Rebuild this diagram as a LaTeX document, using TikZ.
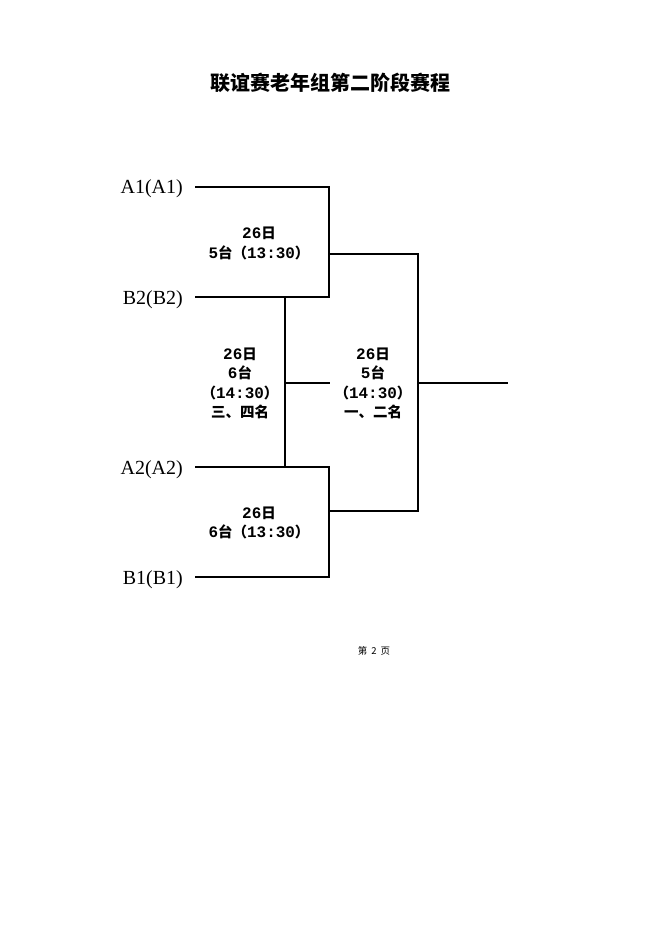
\documentclass[tikz,border=0pt]{standalone}
\usepackage{fontspec}
\setmainfont{Liberation Serif}
\newfontfamily\cjk{Noto Sans CJK SC}
\newfontfamily\dig[Scale=1.1]{Liberation Mono}
\newcommand{\dg}[1]{{\dig\bfseries #1}}
\begin{document}
\begin{tikzpicture}[x=1pt,y=-1pt,
  line/.style={line width=1.1pt},
  team/.style={font=\fontsize{20}{22}\selectfont, anchor=base east, inner sep=0pt},
  info/.style={font=\cjk\bfseries\fontsize{14.5}{19.5}\selectfont, align=center, inner sep=0pt}]
\useasboundingbox[fill=white] (0,0) rectangle (660,933);
\node[font=\cjk\bfseries\fontsize{20}{22}\selectfont] (title) at (330,83) {联谊赛老年组第二阶段赛程};
% team labels and line start points
\node[team] (a1) at (183,194) {A1(A1)};
\node[team] (b2) at (183,304) {B2(B2)};
\node[team] (a2) at (183,474) {A2(A2)};
\node[team] (b1) at (183,584) {B1(B1)};
\coordinate (a1s) at (195,187); \coordinate (a1e) at (329,187);
\coordinate (b2s) at (195,297); \coordinate (b2e) at (329,297);
\coordinate (a2s) at (195,467); \coordinate (a2e) at (329,467);
\coordinate (b1s) at (195,577); \coordinate (b1e) at (329,577);
\coordinate (m1) at (329,254); \coordinate (m1e) at (418,254);
\coordinate (m2) at (329,511); \coordinate (m2e) at (418,511);
\coordinate (t1) at (285,297); \coordinate (t2) at (285,467);
\coordinate (tm) at (285,383); \coordinate (tme) at (330,383);
\coordinate (fm) at (418,383); \coordinate (fe) at (508,383);
\draw[line] (a1s) -- (a1e) -- (b2e) -- (b2s);
\draw[line] (a2s) -- (a2e) -- (b1e) -- (b1s);
\draw[line] (m1) -- (m1e) -- (m2e) -- (m2);
\draw[line] (t1) -- (t2);
\draw[line] (tm) -- (tme);
\draw[line] (fm) -- (fe);
% info labels
\node[info] (g1) at (259,243.5) {\dg{26}日\\\dg{5}台（\dg{13:30}）};
\node[info] (g2) at (259,523) {\dg{26}日\\\dg{6}台（\dg{13:30}）};
\node[info] (g3) at (240,383.5) {\dg{26}日\\\dg{6}台\\（\dg{14:30}）\\三、四名};
\node[info] (g4) at (373,383.5) {\dg{26}日\\\dg{5}台\\（\dg{14:30}）\\一、二名};
\node[font=\cjk\fontsize{9.5}{10}\selectfont] (page) at (374,651) {第\hspace{4pt}2\hspace{4pt}页};
\end{tikzpicture}
\end{document}
